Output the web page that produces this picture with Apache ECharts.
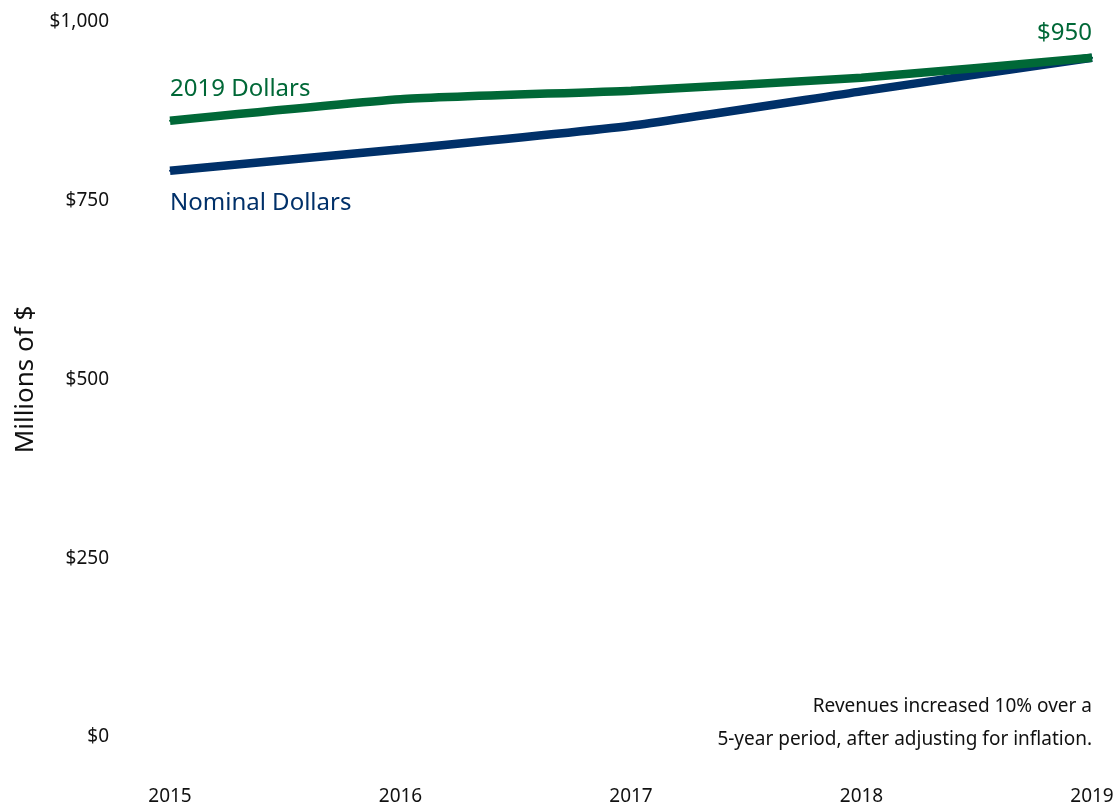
<!DOCTYPE html>
<html>
<head>
<meta charset="utf-8">
<script src="https://cdn.jsdelivr.net/npm/echarts@6/dist/echarts.min.js"></script>
<style>
  html, body { margin: 0; padding: 0; background: #fff; }
  #chart { width: 1120px; height: 806px; }
</style>
</head>
<body>
<div id="chart"></div>
<script>
// Revenue in millions of dollars, 2015–2019
const years = ['2015', '2016', '2017', '2018', '2019'];
const realDollars = [862, 892, 904, 922, 950];     // 2019 dollars
const nominalDollars = [792, 822, 855, 903, 950];  // nominal dollars
const yTicks = [0, 250, 500, 750, 1000];
const noteLines = ['Revenues increased 10% over a', '5-year period, after adjusting for inflation.'];

const FONT = '"Noto Sans", "Open Sans", sans-serif';
const GREEN = '#006837';
const NAVY = '#003069';

const chart = echarts.init(document.getElementById('chart'));

// Series name at the first point, value at the last point (green only)
function seriesLabels(values, name, color, pos) {
  const last = values.length - 1;
  return values.map((v, i) => {
    if (i === 0) {
      return {
        value: v,
        label: {
          show: true, position: pos, formatter: name, align: 'left',
          offset: pos === 'top' ? [0, -14] : [0, 14],
          color: color, fontSize: 24, fontFamily: FONT
        }
      };
    }
    if (i === last && pos === 'top') {
      return {
        value: v,
        label: {
          show: true, position: 'top', align: 'right', offset: [0, -7],
          formatter: p => '$' + p.value,
          color: color, fontSize: 24, fontFamily: FONT
        }
      };
    }
    return { value: v, label: { show: false } };
  });
}

function lineSeries(name, values, color, pos) {
  return {
    name: name,
    type: 'line',
    data: seriesLabels(values, name, color, pos),
    smooth: 0.15,
    symbol: 'circle',
    symbolSize: 2,
    showSymbol: true,
    lineStyle: { color: color, width: 8.5, cap: 'butt' },
    itemStyle: { color: color },
    emphasis: { disabled: true }
  };
}

chart.setOption({
  animation: false,
  backgroundColor: '#fff',
  grid: { left: 170, right: 28, top: 22, bottom: 68, containLabel: false },
  xAxis: {
    type: 'category',
    data: years,
    boundaryGap: false,
    axisLine: { show: false },
    axisTick: { show: false },
    splitLine: { show: false },
    axisLabel: { color: '#111', fontSize: 19, fontFamily: FONT, margin: 50 }
  },
  yAxis: {
    type: 'value',
    min: yTicks[0],
    max: yTicks[yTicks.length - 1],
    interval: yTicks[1] - yTicks[0],
    axisLine: { show: false },
    axisTick: { show: false },
    splitLine: { show: false },
    name: 'Millions of $',
    nameLocation: 'middle',
    nameGap: 130,
    nameRotate: 90,
    nameTextStyle: { color: '#111', fontSize: 26, fontFamily: FONT },
    axisLabel: {
      color: '#111', fontSize: 19, fontFamily: FONT, margin: 61,
      formatter: v => '$' + v.toLocaleString('en-US')
    }
  },
  series: [
    lineSeries('Nominal Dollars', nominalDollars, NAVY, 'bottom'),
    lineSeries('2019 Dollars', realDollars, GREEN, 'top')
  ],
  graphic: noteLines.map((t, i) => ({
    type: 'text',
    right: 28,
    top: 697 + i * 33,
    style: { text: t, fill: '#111', fontSize: 19, fontFamily: FONT, textAlign: 'right' }
  }))
});
</script>
</body>
</html>
